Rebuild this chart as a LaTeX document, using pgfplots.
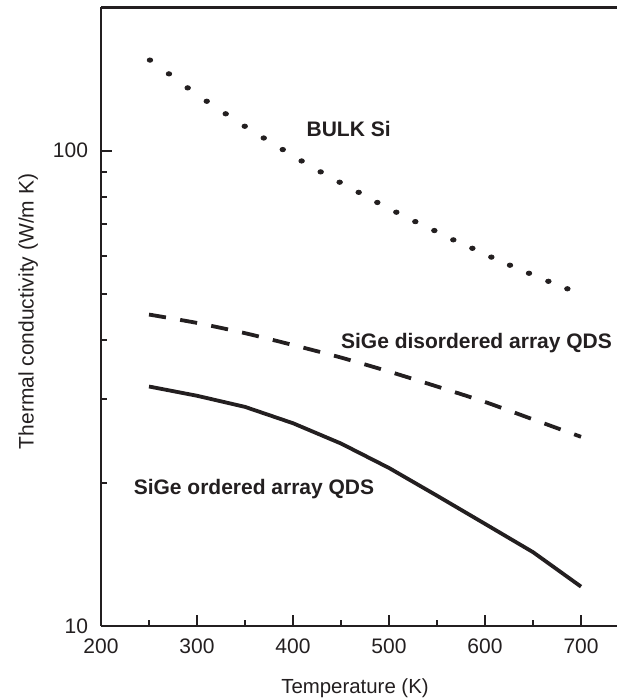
\documentclass[border=0pt]{standalone}
\usepackage{fontspec}
\setmainfont{Liberation Sans}
\usepackage{pgfplots}
\pgfplotsset{compat=1.18}
\definecolor{ink}{RGB}{35,31,32}

% thermal conductivity (T in K, k in W/m K)
\pgfplotstableread{
T k
251.0 155.0
270.8 145.0
290.3 135.5
310.1 127.0
329.9 119.5
349.7 112.5
369.5 106.3
389.3 100.5
409.0 95.1
428.8 90.2
448.6 85.8
468.4 81.7
487.8 77.8
507.6 74.2
527.4 70.9
547.2 67.9
567.0 64.9
586.8 62.3
606.6 59.7
626.0 57.4
645.8 55.2
666.0 53.1
685.8 51.2
}\bulk
\pgfplotstableread{
T k
250 45.2
300 43.4
350 41.3
400 39.0
450 36.7
500 34.3
550 31.9
600 29.6
650 27.2
700 25.0
}\disordered
\pgfplotstableread{
T k
250 31.9
300 30.5
350 28.9
400 26.7
450 24.2
500 21.5
550 18.8
600 16.4
650 14.3
700 12.1
}\ordered

\begin{document}
\fontsize{10.5}{12.6}\selectfont
\begin{tikzpicture}
\useasboundingbox (-50.5pt,-37pt) rectangle (258pt,313pt);
\begin{axis}[
  at={(0,0)}, anchor=south west,
  scale only axis, width=258pt, height=309.25pt,
  ymode=log, xmin=200, xmax=737.5, ymin=10, ymax=200,
  axis x line*=box, axis y line*=left,
  xtick pos=left, ytick pos=left,
  xtick={200,300,400,500,600,700},
  xticklabels={200,300,400,500,600,700},
  minor xtick={250,350,450,550,650},
  ytick={10,100}, yticklabels={10,100},
  minor ytick={20,30,40,50,60,70,80,90},
  tick align=inside, major tick length=5.3pt, minor tick length=3pt,
  axis line style={line width=1.1pt, ink},
  every tick/.append style={line width=1pt, ink},
  ticklabel style={font=\fontsize{10.5}{12.6}\selectfont, text=ink},
  xticklabel style={anchor=north, inner sep=0pt, yshift=-6.2pt},
  yticklabel style={anchor=east, inner sep=0pt, xshift=-6.3pt},
  xlabel={Temperature (K)},
  ylabel={Thermal conductivity (W/m K)},
  xlabel style={at={(axis description cs:0.5,0)}, anchor=base, inner sep=0pt,
    yshift=-33.7pt, xshift=-2pt, font=\fontsize{10.2}{12}\selectfont, text=ink},
  ylabel style={at={([xshift=-41.5pt]axis description cs:0,0.5086)},
    anchor=north, inner sep=0pt,
    font=\fontsize{10.5}{12.6}\selectfont, text=ink},
  clip=false,
]
\addplot[only marks, mark=*, mark size=1.1pt, ink,
  mark options={xscale=1.25}] table[x=T, y=k] {\bulk};
\addplot[ink, line width=1.9pt, dash pattern=on 8.6pt off 7.2pt,
  smooth, tension=0.4] table[x=T, y=k] {\disordered};
\addplot[ink, line width=1.9pt] table[x=T, y=k] {\ordered};
\node[anchor=base west, inner sep=0pt, text=ink, font=\bfseries] at (axis cs:413.8,107.2) {BULK Si};
\node[anchor=base west, inner sep=0pt, text=ink, font=\bfseries] at (axis cs:449.7,38.43) {SiGe disordered array QDS};
\node[anchor=base west, inner sep=0pt, text=ink, font=\bfseries] at (axis cs:233.7,18.87) {SiGe ordered array QDS};
\end{axis}
\end{tikzpicture}
\end{document}
